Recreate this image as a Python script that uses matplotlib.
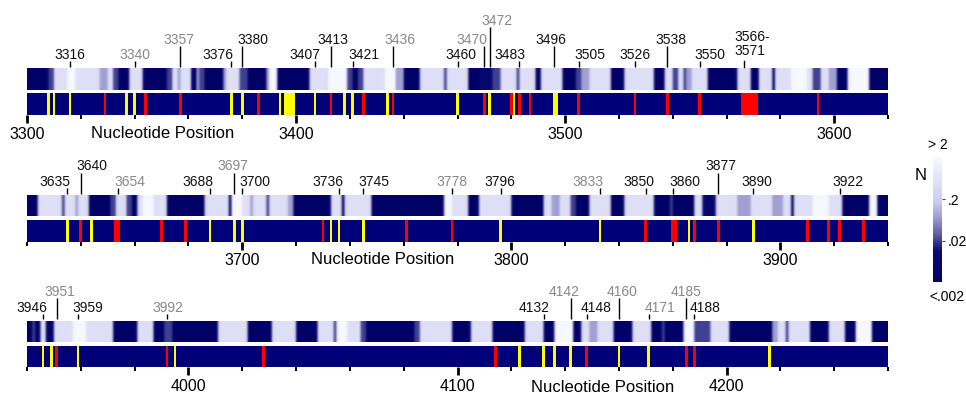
import numpy as np
import matplotlib
matplotlib.use('Agg')
import matplotlib.pyplot as plt
from matplotlib.colors import LinearSegmentedColormap, LogNorm
from matplotlib.ticker import MultipleLocator, FixedLocator, FixedFormatter
import matplotlib.cm as cm

plt.rcParams['font.family'] = ['Liberation Sans', 'DejaVu Sans']

# ---------------- data ----------------
row_ranges = [(3300, 3620), (3620, 3940), (3940, 4260)]

# N value of each reactivity class
N_CLASS = {'D': 0.002, 'd': 0.006, 'M': 0.02, 'm': 0.08, 'L': 0.5, 'W': 2.0}

# heat strip: segment start positions and class of each segment
heat1_starts = [3300, 3308, 3310, 3315, 3318, 3327, 3330, 3332, 3334, 3338, 3343, 3352, 3354, 3356, 3357,
                3361, 3363, 3364, 3366, 3373, 3374, 3379, 3382, 3389, 3390, 3393, 3405, 3412, 3419, 3421,
                3423, 3425, 3433, 3437, 3440, 3446, 3455, 3456, 3464, 3468, 3473, 3476, 3482, 3483, 3489,
                3491, 3499, 3504, 3506, 3509, 3517, 3522, 3533, 3537, 3540, 3542, 3544, 3545, 3547, 3553,
                3564, 3569, 3572, 3577, 3578, 3584, 3590, 3592, 3595, 3598, 3601, 3605, 3613]
heat1_class = "D M L W L m L M D L D M L m L D m M D m L M D m W D L W M D M L W m D L M L D d M L M L D L D M m L D L D L M L M m L D L D L D L W L M L m D W D".split()

heat2_starts = [3620, 3624, 3633, 3634, 3638, 3639, 3643, 3651, 3653, 3657, 3659, 3661, 3663, 3667, 3672,
                3686, 3695, 3696, 3700, 3703, 3704, 3709, 3710, 3717, 3719, 3733, 3737, 3738, 3748, 3775,
                3778, 3784, 3788, 3800, 3812, 3815, 3818, 3822, 3824, 3829, 3837, 3842, 3853, 3859, 3860,
                3868, 3871, 3876, 3884, 3889, 3897, 3901, 3904, 3905, 3912, 3918, 3923, 3933, 3936]
heat2_class = "D L M L m L D M L M D L W L D L D W L m L M L m D L D L D W L D L D L m L M D L D L D M D L d L m L m L D L W L D W D".split()

heat3_starts = [3940, 3942, 3943, 3945, 3947, 3950, 3957, 3962, 3972, 3981, 3987, 3991, 3994, 4011, 4022,
                4031, 4040, 4048, 4054, 4055, 4059, 4064, 4066, 4084, 4086, 4098, 4105, 4113, 4125, 4132,
                4136, 4143, 4146, 4149, 4152, 4158, 4165, 4172, 4176, 4177, 4184, 4188, 4194, 4201, 4217,
                4219, 4222, 4223, 4231, 4238, 4244, 4248, 4254]
heat3_class = "D M D L D L W L D L D M D L D L D L M W L M D M L D L D L D W D L m L D L D M D W M L D m L M L D L D W D".split()

# marker strip
yellow1 = [3308, 3310, 3316, 3337, 3340, 3376, 3380, 3394, 3396, 3397, 3398, 3399, 3407, 3418, 3421,
           3434, 3460, 3472, 3481, 3496, 3497]
red1 = [3329, 3344, 3357, 3386, 3413, 3425, 3436, 3470, 3480, 3483, 3487, 3505, 3526, 3538, 3550,
        3566, 3567, 3568, 3569, 3570, 3571, 3594]
yellow2 = [3635, 3644, 3688, 3697, 3700, 3733, 3736, 3745, 3796, 3833, 3866, 3890]
red2 = [3640, 3653, 3654, 3670, 3679, 3730, 3761, 3778, 3850, 3860, 3861, 3868, 3877, 3910, 3918,
        3922, 3931]
yellow3 = [3946, 3949, 3959, 3995, 4123, 4132, 4136, 4142, 4160, 4171, 4216]
red3 = [3951, 3992, 4028, 4114, 4148, 4185, 4188]

# site labels
lab1_pos = [3316, 3340, 3357, 3376, 3380, 3407, 3413, 3421, 3436, 3460, 3470, 3472, 3483, 3496, 3505,
            3526, 3538, 3550]
lab1_gray = [3340, 3357, 3436, 3470, 3472]
range_label = ("3566-\n3571", 3566)
lab2_pos = [3635, 3640, 3654, 3688, 3697, 3700, 3736, 3745, 3778, 3796, 3833, 3850, 3860, 3877, 3890, 3922]
lab2_gray = [3654, 3697, 3778, 3833]
lab3_pos = [3946, 3951, 3959, 3992, 4132, 4142, 4148, 4160, 4171, 4185, 4188]
lab3_gray = [3951, 3992, 4142, 4160, 4171, 4185]

cbar_ticks = [0.02, 0.2]
cbar_ticklabels = ['.02', '.2']

# ---------------- layout (pixels) ----------------
lab1_level = [0, 0, 1, 0, 1, 0, 1, 0, 1, 0, 1, 2, 0, 1, 0, 0, 1, 0]
lab1_dx = [0, 0, -1, -14, 11, -10, 2, 11, 7, 3, -13, 7, -9, -4, 11, 0, 4, 10]
lab2_level = [0, 1, 0, 0, 1, 0, 0, 0, 0, 0, 0, 0, 0, 1, 0, 0]
lab2_dx = [-12.6, 10.7, 11.7, -11.7, -1, 12.4, -11, 10.7, 0, -1, -12.3, -7, 12.3, 2.7, 3, 8.7]
lab3_level = [0, 1, 0, 0, 0, 1, 0, 1, 0, 1, 0]
lab3_dx = [-11.3, 2.7, 10, 1.3, -9, -6.3, 9, 3.3, 11, 0, 11]
LEVEL_DY = {0: 14.5, 1: 30.0, 2: 49.0}

W, H = 966, 396
row_tops = [68.3, 195.0, 320.7]
ROW_H = 46.5
MARK_H = 21.7
HEAT_Y0 = 25.0
X0, X1 = 27, 888
xlabel_pos = [3350.5, 3752, 4154]
ticklab_y = [133, 260, 387]

NAVY = '#000078'
cmap = LinearSegmentedColormap.from_list('nav', [
    (0.0, (0.0, 0.0, 0.40)),
    (0.25, (0.04, 0.04, 0.46)),
    (0.36, (0.32, 0.32, 0.60)),
    (0.50, (0.58, 0.58, 0.80)),
    (0.65, (0.80, 0.80, 0.94)),
    (1.0, (0.97, 0.97, 1.0)),
])
norm = LogNorm(vmin=0.002, vmax=2)

fig = plt.figure(figsize=(W / 100, H / 100), dpi=100)
fig.patch.set_facecolor('white')

rows = [
    (heat1_starts, heat1_class, yellow1, red1, lab1_pos, lab1_gray, lab1_level, lab1_dx),
    (heat2_starts, heat2_class, yellow2, red2, lab2_pos, lab2_gray, lab2_level, lab2_dx),
    (heat3_starts, heat3_class, yellow3, red3, lab3_pos, lab3_gray, lab3_level, lab3_dx),
]

for i, (hs, hc, yel, red, lpos, lgray, llev, ldx) in enumerate(rows):
    x_start, x_end = row_ranges[i]
    top = row_tops[i]
    ax = fig.add_axes([X0 / W, 1 - (top + ROW_H) / H, (X1 - X0) / W, ROW_H / H])
    ax.set_xlim(x_start, x_end)
    ax.set_ylim(0, ROW_H)
    for s in ax.spines.values():
        s.set_visible(False)

    # heat strip from run-length segments
    ends = list(hs[1:]) + [x_end]
    vals = np.concatenate([np.full(e - s, N_CLASS[c]) for s, e, c in zip(hs, ends, hc)])
    ax.imshow(vals[np.newaxis, :], extent=(x_start, x_end, HEAT_Y0, ROW_H), cmap=cmap, norm=norm,
              aspect='auto', interpolation='gaussian', interpolation_stage='rgba')

    # marker strip
    ax.axhspan(0, MARK_H, color=NAVY, lw=0)
    ax.bar(yel, MARK_H, width=1.0, bottom=0, color='#ffff00', lw=0)
    ax.bar(red, MARK_H, width=1.0, bottom=0, color='#ff0000', lw=0)

    # ticks
    ax.xaxis.set_major_locator(MultipleLocator(100))
    ax.xaxis.set_minor_locator(MultipleLocator(20))
    ax.xaxis.set_major_formatter(matplotlib.ticker.FuncFormatter(lambda v, p: f"{int(v)}"))
    ax.set_yticks([])
    ax.tick_params(axis='x', which='major', length=6, width=2, direction='out', labelsize=11.5, pad=2.5)
    ax.tick_params(axis='x', which='minor', length=3.2, width=1.4, direction='out')
    ax.set_aspect('auto')

    # axis title
    ax.text(xlabel_pos[i], 1 - ticklab_y[i] / H, 'Nucleotide Position', fontsize=12,
            ha='center', va='center',
            transform=matplotlib.transforms.blended_transform_factory(ax.transData, fig.transFigure))

    # site labels
    for p, lv, dx in zip(lpos, llev, ldx):
        dy = LEVEL_DY[lv]
        col = '#888888' if p in lgray else '#111111'
        ax.plot([p, p], [ROW_H + 1.5, ROW_H + dy - 7.5], color='black', lw=1.0, clip_on=False,
                solid_capstyle='butt')
        ax.annotate(str(p), xy=(p, ROW_H), xycoords='data', xytext=(dx, dy), textcoords='offset pixels',
                    ha='center', va='center_baseline', fontsize=10, color=col, annotation_clip=False)
    if i == 0:
        txt, p = range_label
        ax.plot([p + 0.5, p + 0.5], [ROW_H + 1.5, ROW_H + 7.5], color='black', lw=1.0, clip_on=False)
        ax.annotate(txt, xy=(p + 0.5, ROW_H), xycoords='data', xytext=(-10, 24), textcoords='offset pixels',
                    ha='left', va='center', fontsize=10, color='#111111', linespacing=1.0,
                    annotation_clip=False)

# colorbar
cax = fig.add_axes([933 / W, 1 - 282 / H, 9 / W, 124 / H])
sm = cm.ScalarMappable(norm=norm, cmap=cmap)
cb = fig.colorbar(sm, cax=cax)
cb.outline.set_visible(False)
cax.yaxis.set_major_locator(FixedLocator(cbar_ticks))
cax.yaxis.set_major_formatter(FixedFormatter(cbar_ticklabels))
cax.minorticks_off()
cax.tick_params(length=2.5, width=0.8, color='#444444', labelsize=10, pad=1.5)
fig.text(938 / W, 1 - 145 / H, '> 2', ha='center', va='center', fontsize=10)
fig.text(947 / W, 1 - 297 / H, '<.002', ha='center', va='center', fontsize=10)
fig.text(920.5 / W, 1 - 175 / H, 'N', ha='center', va='center', fontsize=12)

fig.savefig('out.png', dpi=100)
